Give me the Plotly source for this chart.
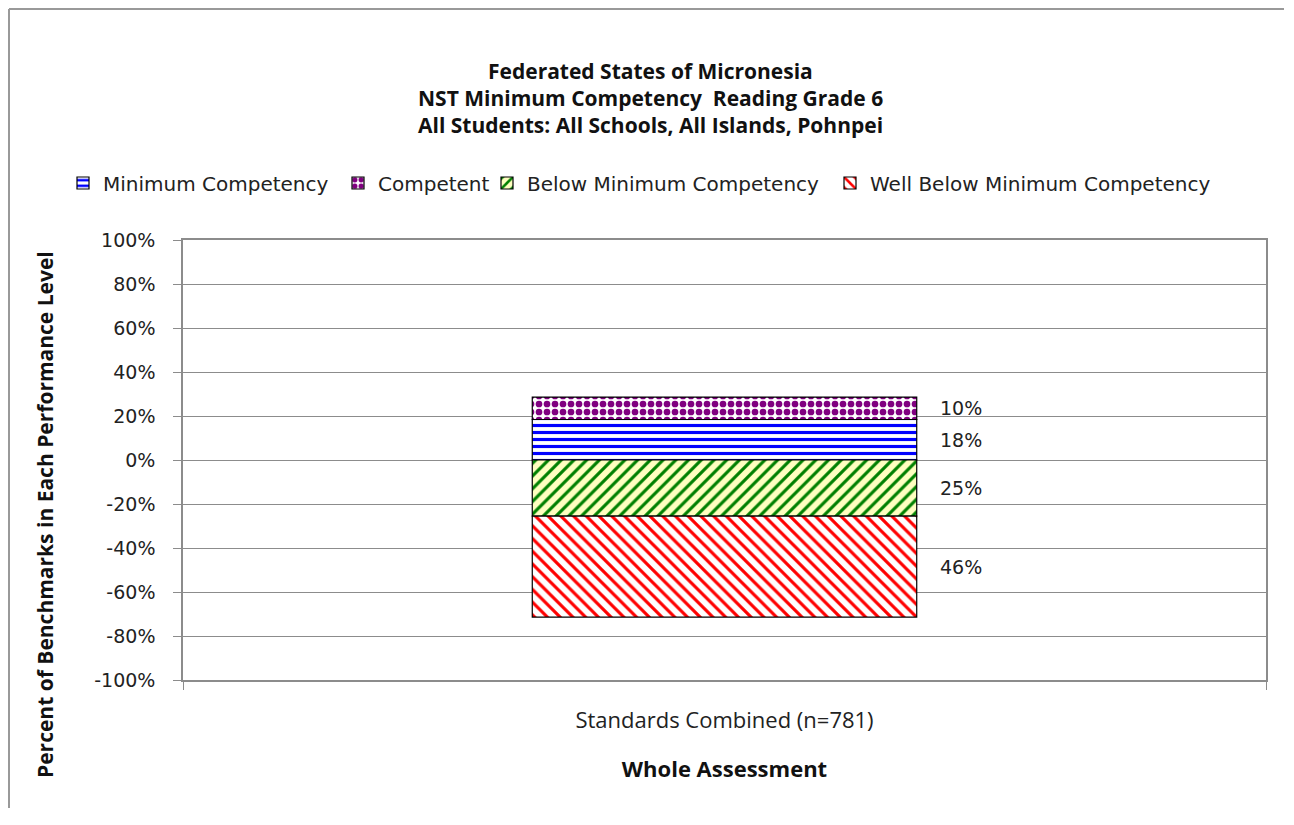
import plotly.graph_objects as go

# Data (fractions of benchmarks)
category = ['Standards Combined (n=781)']
levels = ['Minimum Competency', 'Competent', 'Below Minimum Competency', 'Well Below Minimum Competency']
values = [0.184, 0.102, -0.255, -0.459]
labels = ['18%', '10%', '25%', '46%']
y_ticks = [1.0, 0.8, 0.6, 0.4, 0.2, 0.0, -0.2, -0.4, -0.6, -0.8, -1.0]
y_ticktext = ['100%', '80%', '60%', '40%', '20%', '0%', '-20%', '-40%', '-60%', '-80%', '-100%']
title_lines = ['Federated States of Micronesia',
               'NST Minimum Competency  Reading Grade 6',
               'All Students: All Schools, All Islands, Pohnpei']

# pattern styles per level
patterns = [
    dict(shape='-', fgcolor='#0000FF', bgcolor='#FFFFFF', size=7, solidity=0.45, fillmode='replace'),
    dict(shape='.', fgcolor='#800080', bgcolor='#FFFFFF', size=8, solidity=0.55, fillmode='replace'),
    dict(shape='/', fgcolor='#008000', bgcolor='#FFFFC0', size=9, solidity=0.35, fillmode='replace'),
    dict(shape='\\', fgcolor='#FF0000', bgcolor='#FFFFFF', size=9, solidity=0.35, fillmode='replace'),
]

tick_font = dict(family='DejaVu Sans', size=19, color='#222222')
cal_font = 'Open Sans'

# the page has an 8px body margin; positions below are in page pixels
OFF = 8
W, H = 1276, 800
PL, PR, PT, PB = 183, 1266, 240, 680   # plot area in page pixels

def px_x(x):
    return (x - PL) / (PR - PL)

def px_y(y):
    return (PB - y) / (PB - PT)

fig = go.Figure()
legend_names = ['legend', 'legend2', 'legend3', 'legend4']
for name, v, pat, lg in zip(levels, values, patterns, legend_names):
    fig.add_trace(go.Bar(
        x=category, y=[v], name=name, width=0.355, legend=lg,
        marker=dict(color='#FFFFFF', pattern=pat, line=dict(color='#000000', width=1.2)),
        hoverinfo='name+y',
    ))

# labels next to the bar, at the middle of each segment
pos_base, neg_base = 0.0, 0.0
for v, lab in zip(values, labels):
    if v >= 0:
        mid = pos_base + v / 2
        pos_base += v
    else:
        mid = neg_base + v / 2
        neg_base += v
    fig.add_annotation(x=category[0], y=mid, text=lab, showarrow=False,
                       xanchor='left', yanchor='middle', xshift=213, font=tick_font)

# title, one line each so the spacing stays tight
for line, ty in zip(title_lines, [70.5, 98, 125.5]):
    fig.add_annotation(xref='paper', yref='paper', x=px_x(650), y=px_y(ty), text=line,
                       showarrow=False, xanchor='center', yanchor='middle',
                       font=dict(family=cal_font, size=21, color='#111111', weight='bold'))

# y axis title
fig.add_annotation(xref='paper', yref='paper', x=px_x(45), y=px_y(515),
                   text='Percent of Benchmarks in Each Performance Level', textangle=-90,
                   showarrow=False, xanchor='center', yanchor='middle',
                   font=dict(family=cal_font, size=21, color='#111111', weight='bold'))

# outer chart border (left and top visible)
border = dict(color='#999999', width=2)
fig.add_shape(type='line', xref='paper', yref='paper', x0=px_x(9), x1=px_x(9),
              y0=px_y(9), y1=px_y(830), line=border)
fig.add_shape(type='line', xref='paper', yref='paper', x0=px_x(9), x1=px_x(OFF + W),
              y0=px_y(9), y1=px_y(9), line=border)

# one legend per entry so they sit on a single row like the original
leg_font = dict(family='DejaVu Sans', size=20, color='#222222')
text_starts = [103, 378, 527, 870]
legends = {}
for lg, tx in zip(legend_names, text_starts):
    legends[lg] = dict(orientation='h', xref='container', x=(tx - OFF - 40) / W, xanchor='left',
                       yref='container', y=1 - (183 - OFF) / H, yanchor='middle',
                       font=leg_font, itemwidth=30, bgcolor='rgba(0,0,0,0)')

fig.update_layout(
    width=W, height=H,
    margin=dict(l=PL - OFF, r=W - (PR - OFF), t=PT - OFF, b=H - (PB - OFF)),
    paper_bgcolor='white', plot_bgcolor='white',
    barmode='relative',
    showlegend=True,
    **legends,
)
fig.update_yaxes(
    range=[-1, 1], tickvals=y_ticks, ticktext=y_ticktext, tickfont=tick_font,
    showgrid=True, gridcolor='#8C8C8C', gridwidth=1.3, zeroline=False,
    showline=True, linecolor='#8C8C8C', linewidth=1.5, mirror=True,
    ticks='outside', ticklen=8, tickcolor='#8C8C8C', ticklabelstandoff=14,
)
fig.update_xaxes(
    type='category', tickfont=dict(family=cal_font, size=22, color='#222222'),
    showline=True, linecolor='#8C8C8C', linewidth=1.5, mirror=True,
    ticks='outside', ticklen=8, tickcolor='#8C8C8C', tickson='boundaries',
    ticklabelstandoff=20,
    title=dict(text='Whole Assessment', standoff=28,
               font=dict(family=cal_font, size=22, color='#111111', weight='bold')),
)

fig.write_html('out.html')
